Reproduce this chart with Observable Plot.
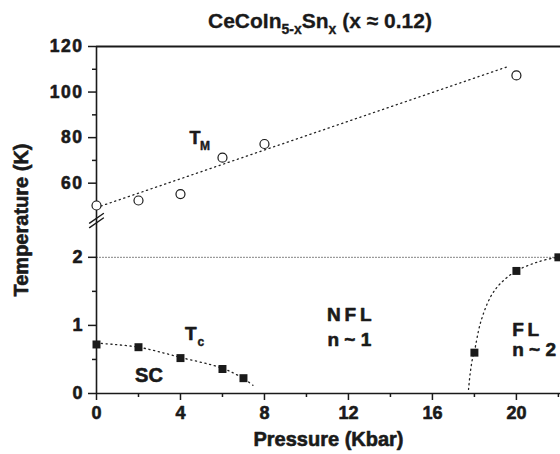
<!DOCTYPE html>
<html><head><meta charset="utf-8">
<script src="https://cdn.jsdelivr.net/npm/d3@7"></script>
<script src="https://cdn.jsdelivr.net/npm/@observablehq/plot@0.6"></script>
<style>
body{margin:0;background:#fff;}
#title{height:27px;padding-top:9px;line-height:22px;font:bold 21px "Liberation Sans",Arial,sans-serif;color:#1a1a1a;padding-left:80px;text-align:center;white-space:nowrap;-webkit-text-stroke:0.3px #1a1a1a;}
#title sub{font-size:14px;line-height:0;vertical-align:-6px;}
</style></head><body>
<div id="title">CeCoIn<sub>5-x</sub>Sn<sub>x</sub> (x ≈ 0.12)</div>
<div id="chart"></div>
<script>
// ---- data ----
const pressureTM = [0, 2, 4, 6, 8, 20];
const tempTM     = [50.2, 52.4, 55.2, 71.2, 77.2, 107.3];
const pressureTc = [0, 2, 4, 6, 7];
const tempTc     = [0.72, 0.68, 0.52, 0.36, 0.225];
const pressureFL = [18, 20, 22];
const tempFL     = [0.60, 1.80, 2.00];
// guide lines
const tmFitP = [0, 19.6];
const tmFitT = [49.3, 111.2];
const tcGuideP = [0, 2, 4, 6, 7, 7.45];
const tcGuideT = [0.74, 0.68, 0.53, 0.37, 0.22, 0.12];
const flGuideP = [17.72, 17.8, 17.9, 18, 18.3, 18.77, 19.25, 20, 21, 21.9];
const flGuideT = [0.06, 0.3, 0.5, 0.62, 1.05, 1.42, 1.62, 1.8, 1.93, 2.0];
const crossoverT = 2;
const crossoverP = [0, 22.1];
// ticks
const xMajor = [0, 4, 8, 12, 16, 20];
const xMinor = [2, 6, 10, 14, 18, 22];
const yLowMajor = [0, 1, 2];
const yHighMajor = [60, 80, 100, 120];
const yMinor = [0.5, 1.5, 70, 90, 110];
// annotations
const labels = [
  {p: 4.69, t: 79.6, text: "T", sub: "M", size: 18},
  {p: 4.49, t: 0.87, text: "T", sub: "c", size: 19},
  {p: 2.5,  t: 0.26, text: "SC", size: 20},
  {p: 12.04, t: 1.15, text: "N\u2009F\u2009L", size: 19},
  {p: 12.04, t: 0.78, text: "n ~ 1", size: 19}
];
const labelsLeft = [
  {p: 19.8, t: 0.93, text: "F\u2009L", size: 19},
  {p: 19.8, t: 0.64, text: "n ~ 2", size: 19}
];

// ---- broken temperature axis ----
const lowTop = 2.54, highBottom = 43.6, k = 2.275 / 68;
const brk = T => T <= lowTop ? T : lowTop + (T - highBottom) * k;

const zip = (P, T) => P.map((p, i) => ({p, t: T[i]}));
const tm = zip(pressureTM, tempTM), tc = zip(pressureTc, tempTc), fl = zip(pressureFL, tempFL);
const breakMarks = [-0.033, 0.033].flatMap((o, j) => [
  {p: -0.33, u: lowTop + o - 0.07, g: j}, {p: 0.33, u: lowTop + o + 0.07, g: j}]);

const ink = "#1a1a1a";
const heavy = {fill: ink, stroke: ink, strokeWidth: 0.6};
const dotted = {stroke: "#222", strokeWidth: 1.3, strokeDasharray: "1.2,3.6"};
const plot = Plot.plot({
  width: 560, height: 418,
  marginTop: 10, marginBottom: 61, marginLeft: 96, marginRight: 0,
  x: {domain: [0, 22.1]},
  y: {domain: [0, brk(120)]},
  style: {fontFamily: "'Liberation Sans', Arial, sans-serif", fontWeight: "bold", fontSize: "16px", background: "white", color: ink},
  marks: [
    Plot.lineY(crossoverP.map(p => ({p, t: crossoverT})), {x: "p", y: d => brk(d.t), stroke: "#777", strokeWidth: 1, strokeDasharray: "1,2"}),
    Plot.line(zip(tmFitP, tmFitT), {x: "p", y: d => brk(d.t), ...dotted}),
    Plot.line(zip(tcGuideP, tcGuideT), {x: "p", y: d => brk(d.t), curve: "catmull-rom", ...dotted}),
    Plot.line(zip(flGuideP, flGuideT), {x: "p", y: d => brk(d.t), curve: "catmull-rom", ...dotted}),
    Plot.ruleX([0], {strokeWidth: 1.6}),
    Plot.ruleY([0], {strokeWidth: 1.6}),
    Plot.ruleY([brk(120)], {strokeWidth: 2}),
    Plot.line(breakMarks, {x: "p", y: "u", z: "g", stroke: ink, strokeWidth: 1.4}),
    // ticks
    Plot.axisX(xMajor, {tickSize: 7, tickFormat: () => "", strokeWidth: 1.5, label: null}),
    Plot.axisX(xMinor, {tickSize: 4, tickFormat: () => "", strokeWidth: 1.5, label: null}),
    Plot.axisY([...yLowMajor, ...yHighMajor].map(brk), {tickSize: 8, tickFormat: () => "", strokeWidth: 1.5, label: null}),
    Plot.axisY(yMinor.map(brk), {tickSize: 4, tickFormat: () => "", strokeWidth: 1.5, label: null}),
    // tick labels
    Plot.text(xMajor, {x: d => d, y: 0, text: d => String(d), dy: 20, fontSize: 18, ...heavy}),
    Plot.text(yLowMajor, {x: 0, y: d => brk(d), text: d => String(d), textAnchor: "end", dx: -14, fontSize: 18, ...heavy}),
    Plot.text(yHighMajor, {x: 0, y: d => brk(d), text: d => String(d), textAnchor: "end", dx: -13, fontSize: 17.5, ...heavy}),
    // data
    Plot.dot(tm, {x: "p", y: d => brk(d.t), r: 4.5, stroke: ink, strokeWidth: 1.2, fill: "white"}),
    Plot.dot(tc, {x: "p", y: d => brk(d.t), r: 4.5, symbol: "square", fill: ink}),
    Plot.dot(fl, {x: "p", y: d => brk(d.t), r: 4.5, symbol: "square", fill: ink}),
    // annotations
    Plot.text(labels, {x: "p", y: d => brk(d.t), text: "text", fontSize: d => d.size, textAnchor: "middle", ...heavy}),
    Plot.text(labelsLeft, {x: "p", y: d => brk(d.t), text: "text", fontSize: d => d.size, textAnchor: "start", ...heavy}),
    Plot.text(labels.filter(d => d.sub), {x: "p", y: d => brk(d.t), text: "sub", fontSize: 12, dx: 10, dy: 8, ...heavy, strokeWidth: 0.4}),
    Plot.text(["Temperature (K)"], {frameAnchor: "left", text: d => d, rotate: -90, textAnchor: "middle", dx: -75, fontSize: 20, ...heavy}),
    Plot.text(["Pressure (Kbar)"], {frameAnchor: "bottom", text: d => d, dy: 52, fontSize: 20, ...heavy})
  ]
});
const spaced = new Set(yHighMajor.map(String));
d3.select(plot).selectAll("text").filter(function() { return spaced.has(this.textContent); })
  .style("letter-spacing", "1.5px");
document.getElementById("chart").appendChild(plot);
</script>
</body></html>
